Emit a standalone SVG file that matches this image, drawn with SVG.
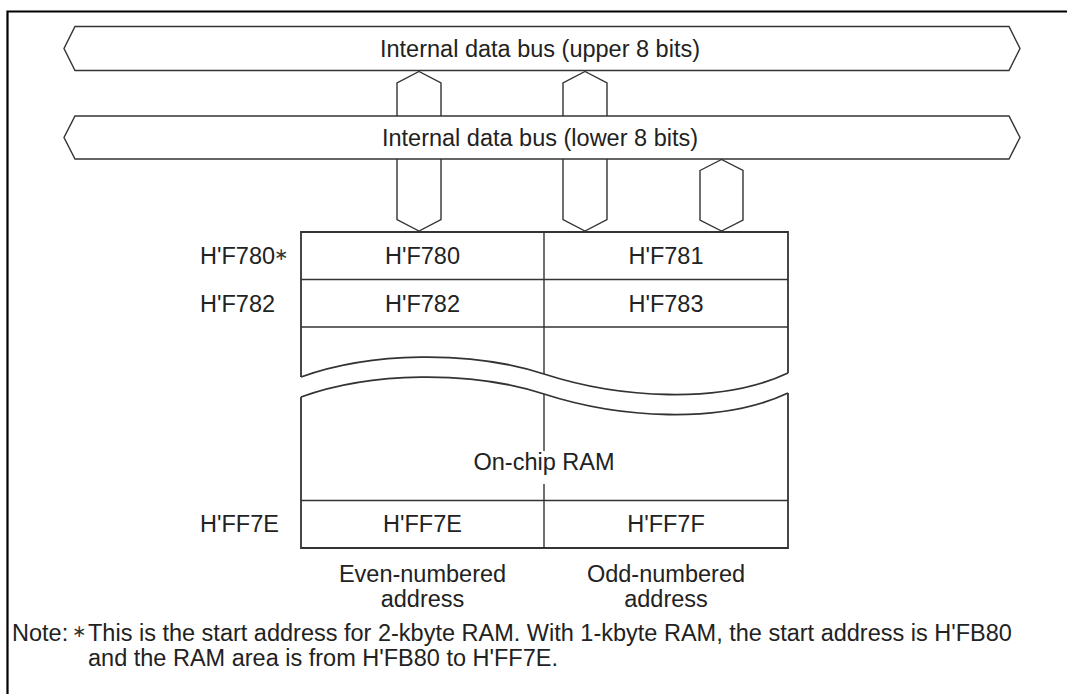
<svg xmlns="http://www.w3.org/2000/svg" width="1067" height="694" viewBox="0 0 1067 694">
<style>
.t{font-family:"Liberation Sans",Arial,sans-serif;font-size:23.5px;fill:#222}
.m{text-anchor:middle}
.s{font-family:"DejaVu Sans",sans-serif;font-size:17px;fill:#333}
.bus{fill:#fff;stroke:#333;stroke-width:1.4}
.ln{fill:none;stroke:#333;stroke-width:1.4}
.tb{fill:none;stroke:#333;stroke-width:1.8}
.frame{fill:none;stroke:#000;stroke-width:2.2}
</style>
<rect width="1067" height="694" fill="#fff"/>
<path class="frame" d="M7.5,694 V11.5 H1067"/>
<g id="bus-upper">
<polygon class="bus" points="75,26.5 1009,26.5 1020,48.5 1009,70.5 75,70.5 64,48.5"/>
<text class="t m" x="540" y="57">Internal data bus (upper 8 bits)</text>
</g>
<g id="bus-lower">
<polygon class="bus" points="75,116 1009,116 1020,137.5 1009,159 75,159 64,137.5"/>
<text class="t m" x="540" y="146">Internal data bus (lower 8 bits)</text>
</g>
<g id="connectors">
<path class="ln" d="M397,116 V83 L419,71.5 L441,83 V116"/>
<path class="ln" d="M563,116 V83 L585,71.5 L607,83 V116"/>
<path class="ln" d="M397,159 V219.5 L419,231 L441,219.5 V159"/>
<path class="ln" d="M563,159 V219.5 L585,231 L607,219.5 V159"/>
<polygon class="ln" points="700,170.5 721.5,159.5 743,170.5 743,220 721.5,231 700,220"/>
</g>
<g id="ram-table">
<path class="tb" d="M301,377 V232 H788 V373"/>
<path class="tb" d="M301,377 C370,352 470,350 544,374 S720,405 788,373"/>
<line class="ln" x1="301" y1="279.5" x2="788" y2="279.5"/>
<line class="ln" x1="301" y1="327" x2="788" y2="327"/>
<line class="ln" x1="544" y1="232" x2="544" y2="374"/>
<path class="tb" d="M301,397 V548 H788 V393"/>
<path class="tb" d="M301,397 C370,372 470,370 544,394 S720,425 788,393"/>
<line class="ln" x1="301" y1="500.5" x2="788" y2="500.5"/>
<line class="ln" x1="544" y1="394" x2="544" y2="451"/>
<line class="ln" x1="544" y1="484" x2="544" y2="548"/>
<text class="t m" x="422.5" y="264">H'F780</text>
<text class="t m" x="666" y="264">H'F781</text>
<text class="t m" x="422.5" y="312">H'F782</text>
<text class="t m" x="666" y="312">H'F783</text>
<text class="t m" x="544" y="470">On-chip RAM</text>
<text class="t m" x="422.5" y="532">H'FF7E</text>
<text class="t m" x="666" y="532">H'FF7F</text>
</g>
<g id="address-labels">
<text class="t" x="200" y="264">H'F780<tspan class="s" dx="-1" dy="-4">∗</tspan></text>
<text class="t" x="200" y="312">H'F782</text>
<text class="t" x="200" y="532">H'FF7E</text>
</g>
<g id="column-labels">
<text class="t m" x="422.5" y="582">Even-numbered</text>
<text class="t m" x="422.5" y="607">address</text>
<text class="t m" x="666" y="582">Odd-numbered</text>
<text class="t m" x="666" y="607">address</text>
</g>
<g id="note">
<text class="t" x="12" y="641">Note:</text>
<text class="s" x="72" y="637">∗</text>
<text class="t" x="88" y="641">This is the start address for 2-kbyte RAM. With 1-kbyte RAM, the start address is H'FB80</text>
<text class="t" x="88" y="666">and the RAM area is from H'FB80 to H'FF7E.</text>
</g>
</svg>
